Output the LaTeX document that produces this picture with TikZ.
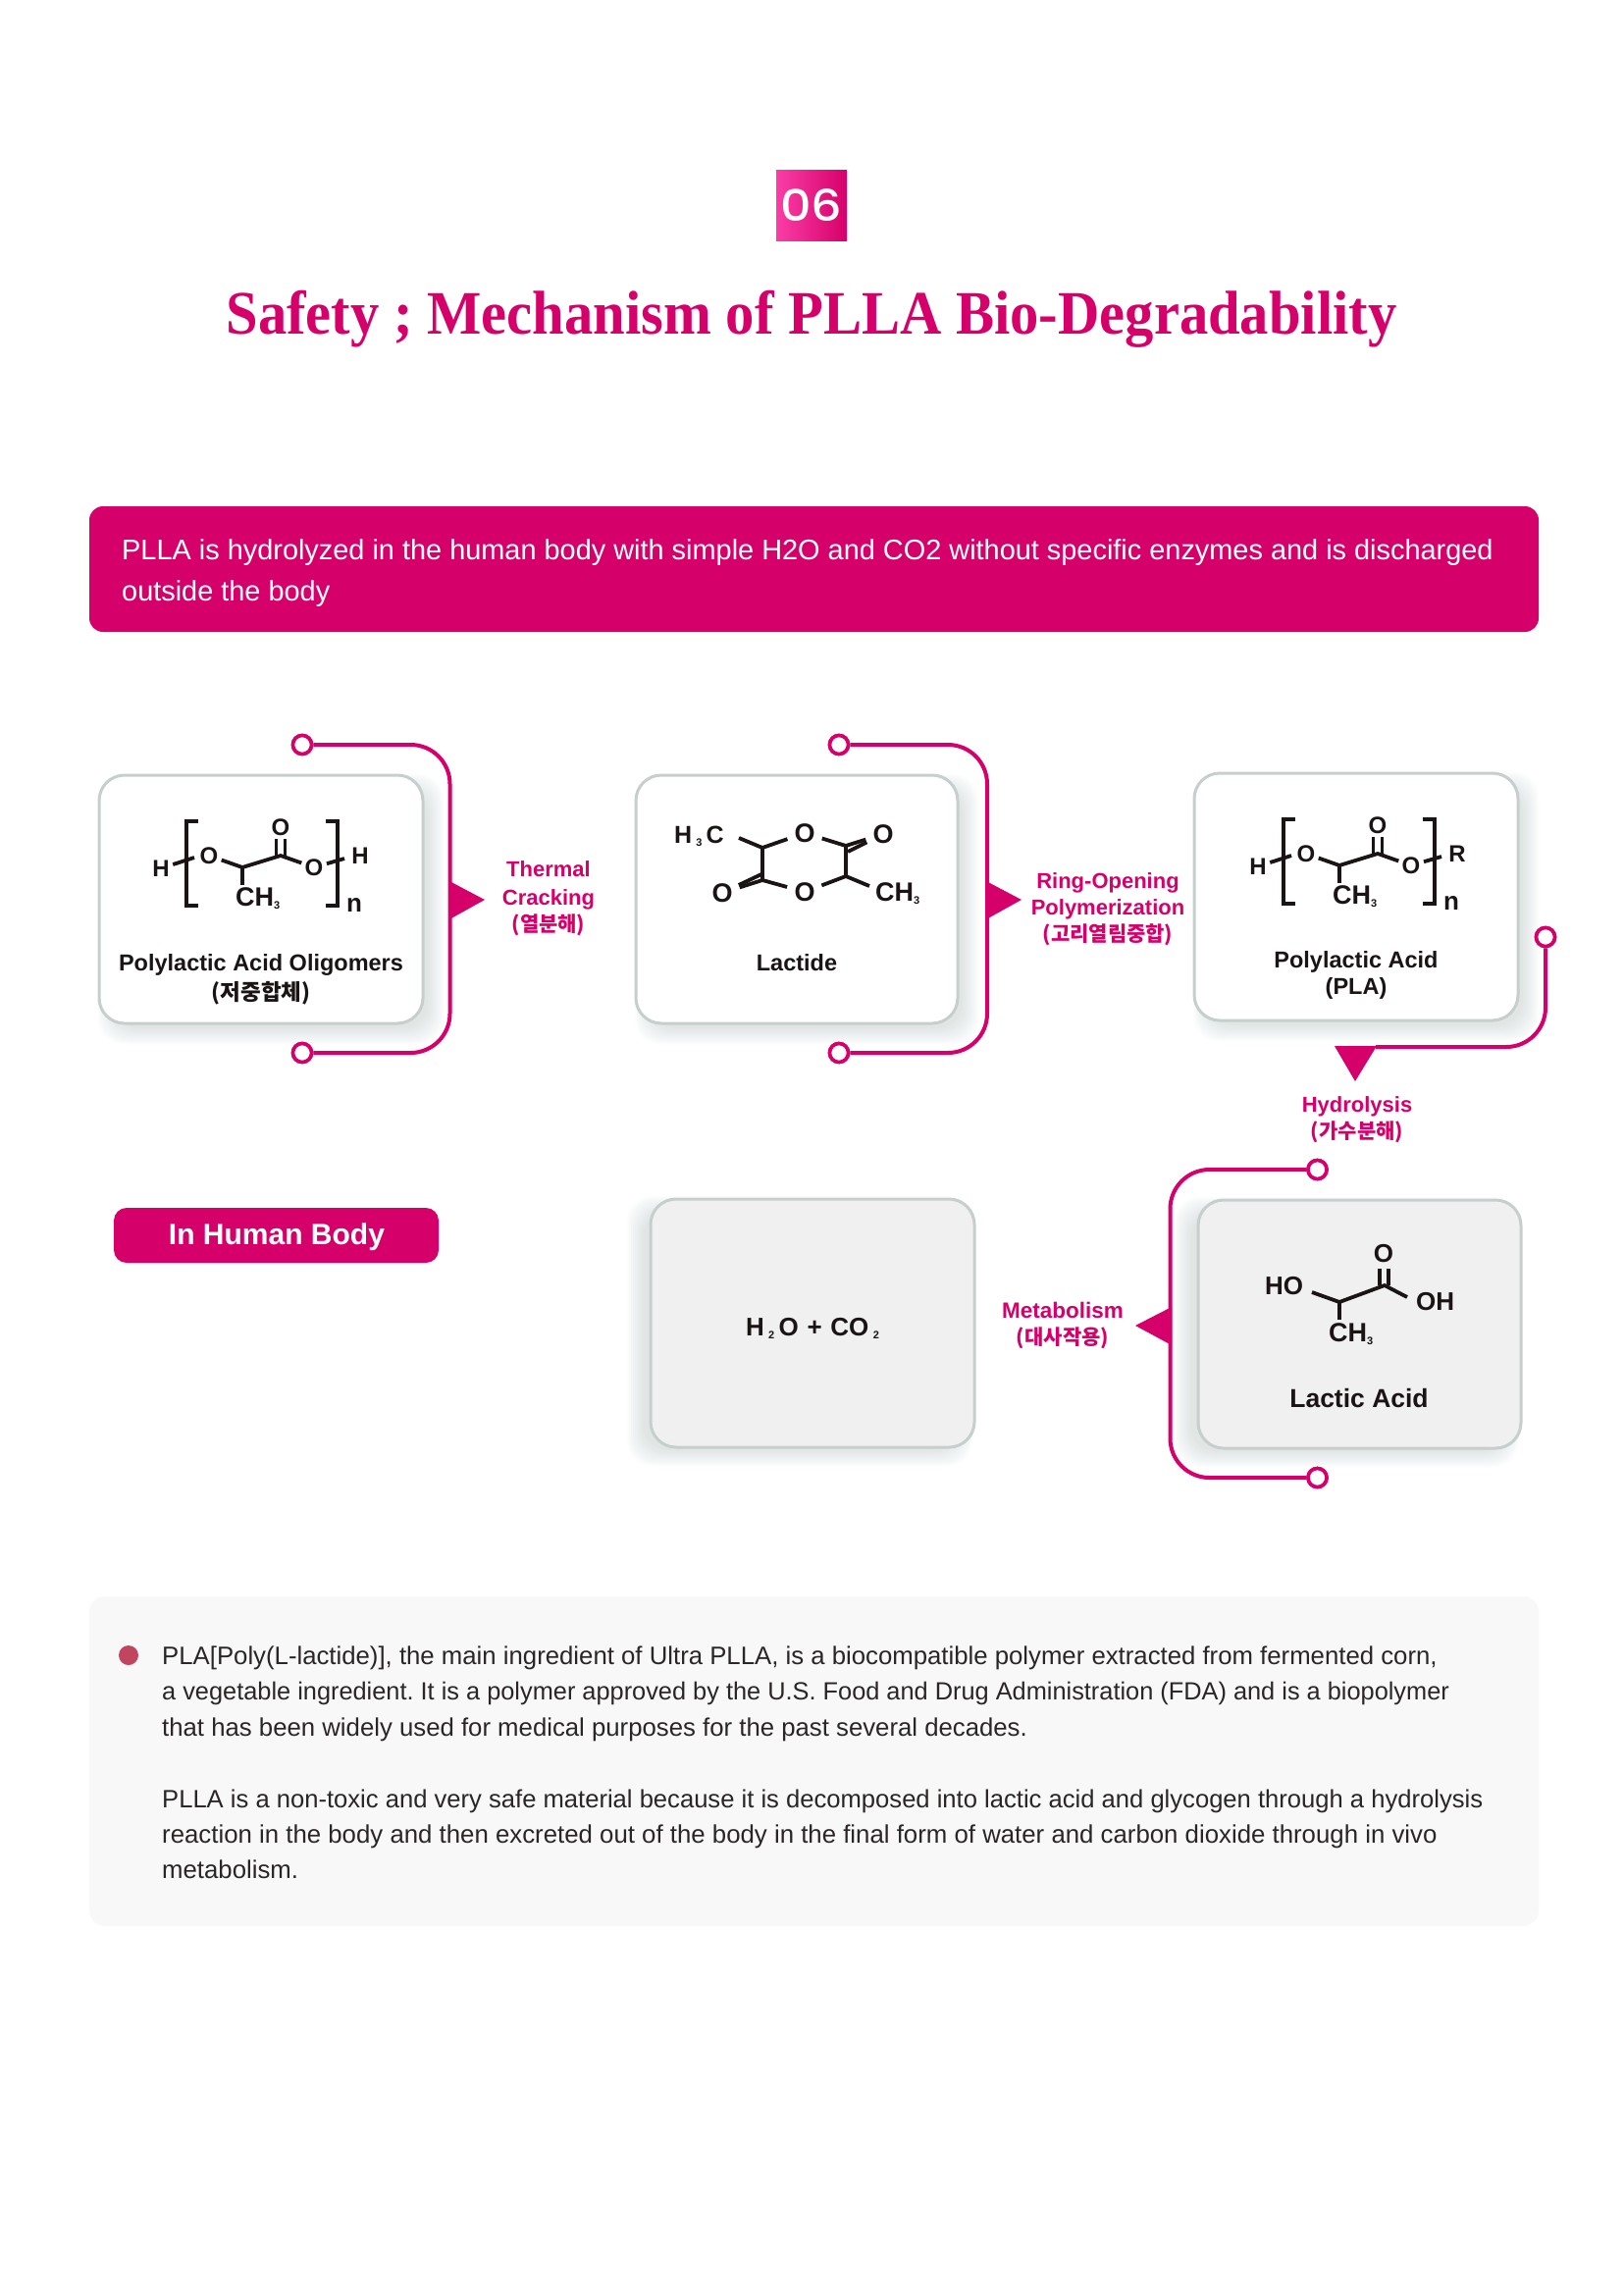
\documentclass[tikz,border=0pt]{standalone}
\usepackage{graphicx}
\usepackage{fontspec}
\setmainfont{Liberation Sans}
\newfontfamily\titlef{Liberation Serif}
\newfontfamily\krf{Noto Sans CJK KR}
\newfontfamily\numf{Poppins}[UprightFont=* Medium]
\usetikzlibrary{calc}
\definecolor{pinkmain}{HTML}{D6006A}
\definecolor{pinklight}{HTML}{FA3DA6}
\definecolor{ink}{HTML}{1A1414}
\definecolor{boxedge}{HTML}{C6CFCD}
\definecolor{shadowc}{HTML}{9FB2AE}
\definecolor{graybox}{HTML}{F0F0F0}
\definecolor{panelc}{HTML}{F8F8F8}
\definecolor{bodyc}{HTML}{2B2626}
\definecolor{bulletc}{HTML}{C2455F}
\newcommand\fsz[1]{\fontsize{#1}{#1}\selectfont}
\newcommand\sbs[1]{\raisebox{-3pt}{\fsz{11}#1}}
\newcommand\softshadow[6]{%
  \foreach \e in {-5,-3,...,11}{%
    \fill[shadowc,opacity=.035,rounded corners=26pt]
      ({#1+#5-\e},{#2+#6-\e}) rectangle ({#3+#5+\e},{#4+#6+\e});
  }}
\tikzset{
  x=1pt,y=-1pt,
  card/.style={draw=boxedge,line width=3pt,fill=white,rounded corners=26pt},
  graycard/.style={card,fill=graybox},
  bond/.style={draw=ink,line width=3.8pt},
  atom/.style={circle,inner sep=.5pt,text=ink,font=\fsz{24}\bfseries},
  bigatom/.style={circle,inner sep=3pt,text=ink,font=\fsz{27}\bfseries},
  grp/.style={inner sep=2pt,text=ink,font=\fsz{27}\bfseries,anchor=base west},
  label/.style={text=ink,font=\fsz{23.5}\bfseries,anchor=base,inner sep=0pt},
  step label/.style={text=pinkmain,font=\fsz{22}\bfseries,anchor=base,inner sep=0pt},
  kr label/.style={text=pinkmain,font=\krf\fsz{21}\bfseries,anchor=base,inner sep=0pt},
  conn/.style={draw=pinkmain,line width=4pt,rounded corners=40pt},
  ring/.style={circle,draw=pinkmain,line width=3.6pt,fill=white,minimum size=19pt,inner sep=0pt},
  head/.style={fill=pinkmain},
  bodyline/.style={text=bodyc,font=\frenchspacing\fsz{25.75},anchor=base west,inner sep=0pt},
  bannerline/.style={text=white,font=\fsz{28.9},anchor=base west,inner sep=0pt},
}
\newcommand\plamol[4]{%
\begin{scope}[shift={(#1,#2)}]
  \node[atom] (#3h) at (164,885) {H};
  \node[atom] (#3oa) at (213,872) {O};
  \node[atom] (#3ot) at (286,843) {O};
  \node[atom] (#3ob) at (320,884) {O};
  \node[atom] (#3r) at (367,872) {#4};
  \node[grp] (#3m) at (238,923) {CH\sbs{3}};
  \node[atom,font=\fsz{26}\bfseries] (#3n) at (361,922) {n};
  \coordinate (#3a) at (247,884);
  \coordinate (#3b) at (286,872);
  \coordinate (#3l) at (198,874);
  \coordinate (#3e) at (351,875);
  \draw[bond] (#3h) -- (#3l);
  \draw[bond] (#3ob) -- (#3e);
  \draw[bond] (#3oa) -- (#3a) -- (#3b) -- (#3ob);
  \draw[bond] (#3a) -- (#3a|-#3m.north);
  \draw[bond] ([xshift=-4.5pt]#3b) -- ([xshift=-4.5pt,yshift=17pt]#3b);
  \draw[bond] ([xshift=4.5pt]#3b) -- ([xshift=4.5pt,yshift=17pt]#3b);
  \draw[bond] (202,837) -- (190,837) -- (190,923) -- (202,923);
  \draw[bond] (332,837) -- (344,837) -- (344,923) -- (332,923);
\end{scope}}
\begin{document}
\begin{tikzpicture}
\useasboundingbox (0,0) rectangle (1654,2339);
\fill[white] (0,0) rectangle (1654,2339);

% header
\node[rectangle,minimum width=72pt,minimum height=72pt,inner sep=0pt,left color=pinklight,right color=pinkmain] (badge) at (827,209) {};
\node[text=white,font=\numf\fsz{44},inner sep=0pt] (num) at (827,209) {\scalebox{1.12}[1]{06}};
\node[text=pinkmain,font=\titlef\bfseries\fsz{63},anchor=base,inner sep=0pt] (title) at (827,340) {\scalebox{.93}[1]{Safety ; Mechanism of PLLA Bio-Degradability}};

% banner
\fill[pinkmain,rounded corners=14pt] (91,516) rectangle (1568,644);
\node[bannerline] (b1) at (124,570) {PLLA is hydrolyzed in the human body with simple H2O and CO2 without specific enzymes and is discharged};
\node[bannerline] (b2) at (124,612) {outside the body};

% cards
\softshadow{101}{790}{431}{1043}{10}{10}
\softshadow{648}{790}{976}{1043}{10}{10}
\softshadow{1217}{788}{1547}{1040}{10}{10}
\softshadow{663}{1222}{993}{1475}{-13}{8}
\softshadow{1221}{1223}{1550}{1476}{-13}{8}
\draw[card] (101,790) rectangle (431,1043);
\draw[card] (648,790) rectangle (976,1043);
\draw[card] (1217,788) rectangle (1547,1040);
\draw[graycard] (663,1222) rectangle (993,1475);
\draw[graycard] (1221,1223) rectangle (1550,1476);

% connectors and arrow heads
\coordinate (a1) at (458.5,917);
\coordinate (a2) at (1006,917);
\coordinate (a3) at (1402,1067);
\coordinate (a4) at (1192.5,1351);
\node[ring] (c1t) at (308,759) {};
\node[ring] (c1b) at (308,1073) {};
\node[ring] (c2t) at (855,759) {};
\node[ring] (c2b) at (855,1073) {};
\node[ring] (c3) at (1575,955) {};
\node[ring] (c4t) at (1342.5,1192) {};
\node[ring] (c4b) at (1342.5,1506) {};
\draw[conn] (c1t) -| (a1) |- (c1b);
\draw[conn] (c2t) -| (a2) |- (c2b);
\draw[conn] (c3) |- (a3);
\draw[conn] (c4t) -| (a4) |- (c4b);
\node[ring] (c1tf) at (c1t) {};
\node[ring] (c1bf) at (c1b) {};
\node[ring] (c2tf) at (c2t) {};
\node[ring] (c2bf) at (c2b) {};
\node[ring] (c3f) at (c3) {};
\node[ring] (c4tf) at (c4t) {};
\node[ring] (c4bf) at (c4b) {};
\fill[head] (458,898) -- (494,917) -- (458,937) -- cycle;
\fill[head] (1005,898) -- (1041,917) -- (1005,937) -- cycle;
\fill[head] (1360,1066) -- (1403,1066) -- (1381,1102) -- cycle;
\fill[head] (1194,1332) -- (1157,1351) -- (1194,1371) -- cycle;

% step labels
\node[step label] (t1) at (559,893) {Thermal};
\node[step label] (t2) at (559,922) {Cracking};
\node[kr label] (t3) at (559,949) {(열분해)};
\node[step label] (r1) at (1129,905) {Ring-Opening};
\node[step label] (r2) at (1129,932) {Polymerization};
\node[kr label] (r3) at (1129,959) {(고리열림중합)};
\node[step label] (h1) at (1383,1133) {Hydrolysis};
\node[kr label] (h2) at (1383,1160) {(가수분해)};
\node[step label,font=\fsz{22.5}\bfseries] (m1) at (1083,1343) {Metabolism};
\node[kr label] (m2) at (1083,1370) {(대사작용)};

% card labels
\node[label] (l1) at (266,989) {Polylactic Acid Oligomers};
\node[label,font=\krf\fsz{22.5}\bfseries] (l2) at (266,1019) {(저중합체)};
\node[label] (l3) at (812,989) {Lactide};
\node[label] (l4) at (1382,986) {Polylactic Acid};
\node[label] (l5) at (1382,1013) {(PLA)};
\node[label,font=\fsz{26.5}\bfseries] (l6) at (1385,1434) {Lactic Acid};
\node[label,font=\fsz{26}\bfseries] (l7) at (828,1361) {H\,\sbs{2}\,O\,\,+\,\,CO\,\sbs{2}};

% polylactic acid, twice
\plamol{0}{0}{p}{H}
\plamol{1118}{-2}{q}{R}

% lactide
\node[grp,font=\fsz{25}\bfseries,inner sep=0pt] (ld1) at (687,859) {H\,\sbs{3}\,C};
\node[bigatom] (lot) at (820,849) {O};
\node[bigatom] (lor) at (900,850) {O};
\node[bigatom] (lob) at (820,909) {O};
\node[bigatom] (lol) at (736,910) {O};
\node[grp,inner sep=0pt] (ld2) at (892,918) {CH\sbs{3}};
\coordinate (v1) at (777,864);
\coordinate (v2) at (862,862);
\coordinate (v3) at (862,893);
\coordinate (v4) at (777,897);
\coordinate (e1) at (753,854);
\coordinate (e2) at (886,903);
\draw[bond] (e1) -- (v1) -- (lot) -- (v2) -- (v3) -- (lob) -- (v4) -- (v1);
\draw[bond] (v3) -- (e2);
\draw[bond] (862,862) -- (lor);
\draw[bond] (864,868) -- (lor);
\draw[bond] (777,897) -- (lol);
\draw[bond] (776,891) -- (lol);

% lactic acid
\node[grp,font=\fsz{26}\bfseries,inner sep=0pt] (la1) at (1289,1319) {HO};
\node[bigatom,font=\fsz{26}\bfseries] (la2) at (1410,1278) {O};
\node[grp,font=\fsz{26}\bfseries,inner sep=0pt] (la3) at (1443,1335) {OH};
\node[grp,inner sep=3pt] (la4) at (1351,1367) {CH\sbs{3}};
\coordinate (w1) at (1365,1327);
\coordinate (w2) at (1411,1310);
\coordinate (w3) at (1337,1317);
\coordinate (w4) at (1434,1322);
\draw[bond] (w3) -- (w1) -- (w2) -- (w4);
\draw[bond] (w1) -- (w1|-la4.north);
\draw[bond] ([xshift=-5pt]w2) -- ([xshift=-5pt,yshift=17pt]w2);
\draw[bond] ([xshift=4pt]w2) -- ([xshift=4pt,yshift=17pt]w2);

% In Human Body
\node[fill=pinkmain,rounded corners=13pt,minimum width=331pt,minimum height=56pt,inner sep=0pt] (hb) at (281.5,1259) {};
\node[text=white,font=\fsz{30}\bfseries,anchor=base,inner sep=0pt] (hbt) at (282,1268) {In Human Body};

% bottom panel
\fill[panelc,rounded corners=16pt] (91,1627) rectangle (1568,1963);
\fill[bulletc] (131,1687) circle (10);
\node[bodyline] (p1) at (165,1696) {PLA[Poly(L-lactide)], the main ingredient of Ultra PLLA, is a biocompatible polymer extracted from fermented corn,};
\node[bodyline,font=\frenchspacing\fsz{25.35}] (p2) at (165,1732) {a vegetable ingredient. It is a polymer approved by the U.S. Food and Drug Administration (FDA) and is a biopolymer};
\node[bodyline] (p3) at (165,1769) {that has been widely used for medical purposes for the past several decades.};
\node[bodyline,font=\frenchspacing\fsz{25.6}] (p4) at (165,1842) {PLLA is a non-toxic and very safe material because it is decomposed into lactic acid and glycogen through a hydrolysis};
\node[bodyline,font=\frenchspacing\fsz{25.8}] (p5) at (165,1878) {reaction in the body and then excreted out of the body in the final form of water and carbon dioxide through in vivo};
\node[bodyline] (p6) at (165,1914) {metabolism.};
\end{tikzpicture}
\end{document}
